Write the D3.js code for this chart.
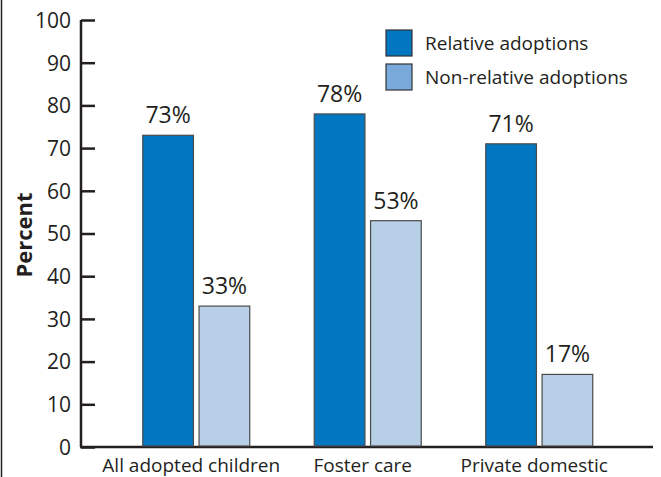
<!DOCTYPE html>
<html><head><meta charset="utf-8">
<script src="https://cdn.jsdelivr.net/npm/d3@7"></script>
<style>body{margin:0;background:#fff}svg{display:block}text{font-family:"Open Sans",sans-serif;fill:#231f20}</style>
</head><body>
<svg id="c" width="661" height="477"></svg>
<script>
const categories = ["All adopted children", "Foster care", "Private domestic"];
const seriesNames = ["Relative adoptions", "Non-relative adoptions"];
const relative = [73, 78, 71];
const nonRelative = [33, 53, 17];
const yTicks = [0,10,20,30,40,50,60,70,80,90,100];

const barColors = ["#0077c0", "#b8cfe8"];
const legendColors = ["#0077c0", "#79aadb"];

const svg = d3.select("#c");
const y = d3.scaleLinear().domain([0,100]).range([447,20]);
const x0 = d3.scaleBand().domain(categories).range([110.5,625]).paddingInner(0).paddingOuter(0);
const x1 = d3.scaleBand().domain(seriesNames).range([-53.5,53.5]).paddingInner(0.1);

// left frame line
svg.append("line").attr("x1",1.5).attr("x2",1.5).attr("y1",0).attr("y2",477).attr("stroke","#231f20").attr("stroke-width",1.5);

// y axis
const yAxis = d3.axisRight(y).tickValues(yTicks).tickSize(14).tickFormat(d3.format("d"));
const ga = svg.append("g").attr("transform","translate(81,0)").call(yAxis);
ga.select(".domain").attr("d","M0,20V447").attr("stroke","#231f20").attr("stroke-width",2.5);
ga.selectAll(".tick line").attr("stroke","#231f20").attr("stroke-width",2.5);
ga.selectAll(".tick text").attr("x",-10).attr("text-anchor","end").attr("dy","0.35em")
  .style("font-size","21px").style("font-family","'Open Sans',sans-serif").attr("fill","#231f20");

// baseline
svg.append("line").attr("x1",80).attr("x2",653).attr("y1",y(0)).attr("y2",y(0)).attr("stroke","#231f20").attr("stroke-width",2.5);

const series = [relative, nonRelative];
const groups = svg.append("g");
categories.forEach((c,i)=>{
  const cx = x0(c) + x0.bandwidth()/2;
  seriesNames.forEach((s,j)=>{
    const v = series[j][i];
    groups.append("rect")
      .attr("x", cx + x1(s)).attr("width", x1.bandwidth())
      .attr("y", y(v)).attr("height", y(0)-y(v)-1)
      .attr("fill", barColors[j]).attr("stroke","#4a4a4a").attr("stroke-width",1.2);
    groups.append("text")
      .attr("x", cx + x1(s) + x1.bandwidth()/2).attr("y", y(v)-12)
      .attr("text-anchor","middle").style("font-size","23px").text(v+"%");
  });
  svg.append("text").attr("x",cx-5).attr("y",471.5).attr("text-anchor","middle")
    .style("font-size","19px").text(c);
});

// y label
svg.append("text").attr("transform","translate(32,235) rotate(-90)").attr("text-anchor","middle")
  .style("font-size","22px").style("font-weight","bold").text("Percent");

// legend
const lg = svg.append("g").attr("transform","translate(386,30)");
seriesNames.forEach((s,j)=>{
  lg.append("rect").attr("x",0).attr("y",j*34).attr("width",26).attr("height",26)
    .attr("fill",legendColors[j]).attr("stroke","#333").attr("stroke-width",1.2);
  lg.append("text").attr("x",39).attr("y",j*34+20).style("font-size","19px").text(s);
});
</script>
</body></html>
